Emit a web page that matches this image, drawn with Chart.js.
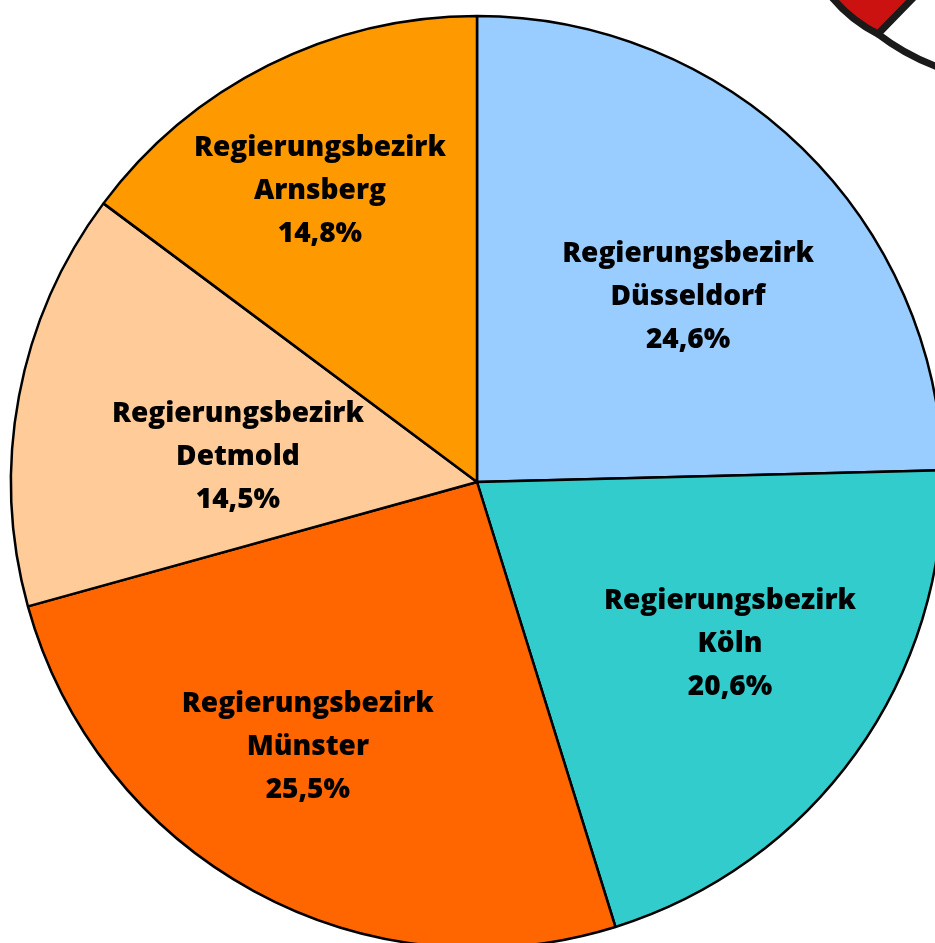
<!DOCTYPE html>
<html>
<head>
<meta charset="utf-8">
<script src="https://cdn.jsdelivr.net/npm/chart.js@4.4.0/dist/chart.umd.min.js"></script>
<style>
  html, body { margin: 0; padding: 0; background: #fff; overflow: hidden; width: 935px; height: 943px; }
  #wrap { position: absolute; left: -3px; top: 2px; width: 960px; height: 960px; }
  #emblem { position: absolute; left: 780px; top: 0; }
</style>
</head>
<body>
<div id="wrap"><canvas id="pie" width="960" height="960"></canvas></div>
<canvas id="emblem" width="155" height="100"></canvas>
<script>
// shares of the Regierungsbezirke (clockwise from 12 o'clock)
let names = ['Düsseldorf', 'Köln', 'Münster', 'Detmold', 'Arnsberg'];
let shares = [24.6, 20.6, 25.5, 14.5, 14.8];
let colors = ['#99ccff', '#33cccc', '#ff6600', '#ffcc99', '#ff9900'];

// where each label block sits, as fractions of the radius from the centre
let labelPos = [[0.453, -0.397], [0.543, 0.347], [-0.363, 0.568], [-0.513, -0.054], [-0.337, -0.625]];

let sliceLabels = {
    id: 'sliceLabels',
    afterDatasetsDraw(chart) {
        let ctx = chart.ctx;
        let meta = chart.getDatasetMeta(0);
        ctx.save();
        ctx.fillStyle = '#000';
        ctx.font = '800 28px "Open Sans"';
        ctx.textAlign = 'center';
        ctx.textBaseline = 'middle';
        meta.data.forEach((arc, i) => {
            let x = arc.x + labelPos[i][0] * arc.outerRadius;
            let y = arc.y + labelPos[i][1] * arc.outerRadius;
            let pct = shares[i].toFixed(1).replace('.', ',') + '%';
            ctx.fillText('Regierungsbezirk', x, y - 43);
            ctx.fillText(names[i], x, y);
            ctx.fillText(pct, x, y + 43);
        });
        ctx.restore();
    }
};

new Chart(document.getElementById('pie'), {
    type: 'pie',
    data: {
        labels: names,
        datasets: [{
            data: shares,
            backgroundColor: colors,
            borderColor: '#000',
            borderWidth: 2.5
        }]
    },
    options: {
        responsive: false,
        animation: false,
        radius: 466,
        layout: { padding: 0 },
        plugins: {
            legend: { display: false },
            tooltip: { enabled: false }
        }
    },
    plugins: [sliceLabels]
});

// bit of the coat of arms peeking in at the top right
let e = document.getElementById('emblem').getContext('2d');
e.fillStyle = '#cc1111';
e.beginPath();
e.moveTo(50, -5);
e.quadraticCurveTo(70, 20, 98, 34);
e.lineTo(136, -5);
e.closePath();
e.fill();
e.strokeStyle = '#1a1a1a';
e.lineWidth = 7;
e.lineJoin = 'round';
e.beginPath();
e.moveTo(50, -5);
e.quadraticCurveTo(70, 20, 98, 34);
e.lineTo(136, -5);
e.stroke();
e.beginPath();
e.moveTo(98, 34);
e.quadraticCurveTo(125, 55, 160, 68);
e.stroke();
</script>
</body>
</html>
